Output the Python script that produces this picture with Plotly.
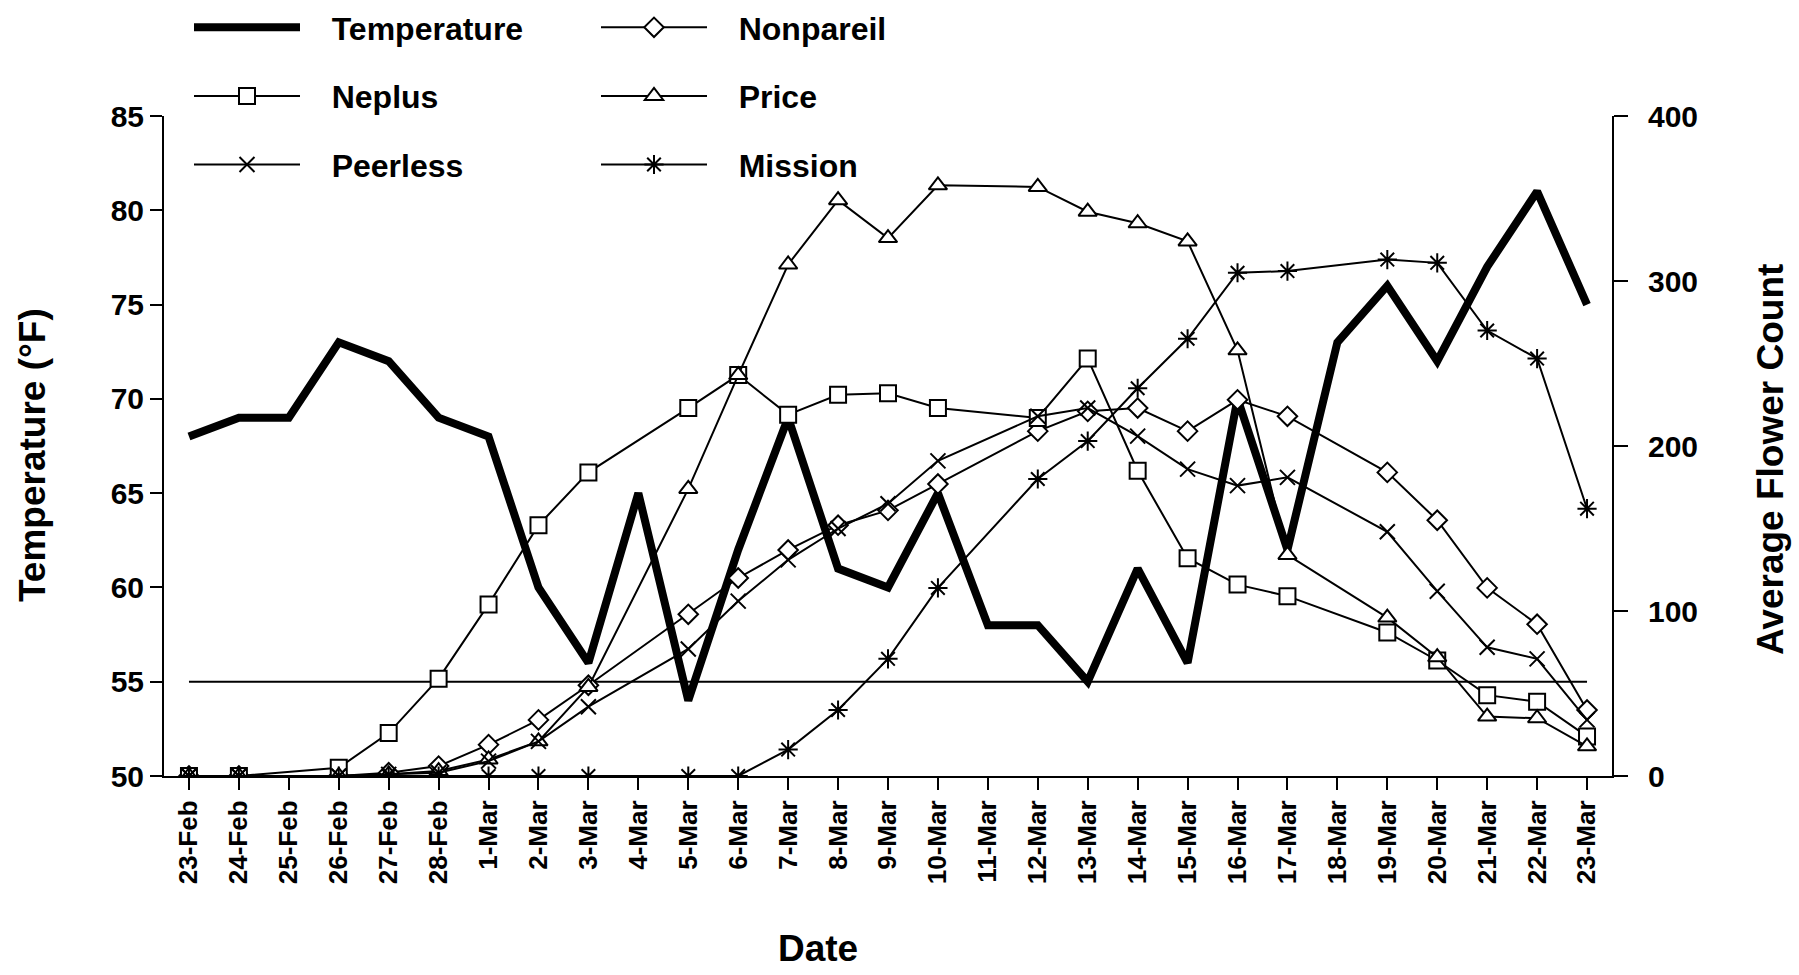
import plotly.graph_objects as go

dates = ["23-Feb", "24-Feb", "25-Feb", "26-Feb", "27-Feb", "28-Feb",
         "1-Mar", "2-Mar", "3-Mar", "4-Mar", "5-Mar", "6-Mar", "7-Mar", "8-Mar",
         "9-Mar", "10-Mar", "11-Mar", "12-Mar", "13-Mar", "14-Mar", "15-Mar",
         "16-Mar", "17-Mar", "18-Mar", "19-Mar", "20-Mar", "21-Mar", "22-Mar", "23-Mar"]

temperature = [68, 69, 69, 73, 72, 69, 68, 60, 56, 65, 54, 62, 69, 61, 60, 65, 58, 58,
               55, 61, 56, 70, 62, 73, 76, 72, 77, 81, 75]

threshold = [55] * len(dates)

nonpareil = [0, 0, None, 0, 2, 6, 19, 34, 55, None, 98, 120, 137, 152, 161, 177, None,
             209, 221, 223, 209, 228, 218, None, 184, 155, 114, 92, 40]
neplus = [0, 0, None, 5, 26, 59, 104, 152, 184, None, 223, 243, 219, 231, 232, 223, None,
          217, 253, 185, 132, 116, 109, None, 87, 70, 49, 45, 24]
price = [0, 0, None, 0, 1, 3, 10, 21, 54, None, 174, 243, 310, 349, 326, 358, None,
         357, 342, 335, 324, 258, 134, None, 96, 72, 36, 35, 18]
peerless = [0, 0, None, 0, 1, 2, 9, 21, 42, None, 77, 106, 131, 150, 165, 191, None,
            218, 223, 206, 186, 176, 181, None, 148, 112, 78, 71, 34]
mission = [0, 0, None, 0, 0, 0, 0, 0, 0, None, 0, 0, 16, 40, 71, 114, None,
           180, 203, 235, 265, 305, 306, None, 313, 311, 270, 253, 162]

FONT = "Liberation Sans"
PAD = "\u00a0\u00a0\u00a0"
fig = go.Figure()

fig.add_trace(go.Scatter(x=dates, y=temperature, name=PAD + "Temperature", mode="lines",
                         line=dict(color="black", width=8), legend="legend",
                         legendgroup="t"))
fig.add_trace(go.Scatter(x=dates, y=threshold, mode="lines", showlegend=False,
                         line=dict(color="black", width=2), hoverinfo="skip"))

series = [
    ("Nonpareil", nonpareil, "diamond", 15, "white", "legend2"),
    ("Neplus", neplus, "square", 16, "white", "legend"),
    ("Price", price, "triangle-up", 16, "white", "legend2"),
    ("Peerless", peerless, "x-thin", 15, "black", "legend"),
    ("Mission", mission, "asterisk", 16, "black", "legend2"),
]
for name, vals, sym, size, fill, lg in series:
    fig.add_trace(go.Scatter(
        x=dates, y=vals, name=PAD + name, yaxis="y2", mode="lines+markers",
        connectgaps=True, legend=lg, legendgroup=name,
        line=dict(color="black", width=2),
        marker=dict(symbol=sym, size=size, color=fill,
                    line=dict(color="black", width=2))))

legend_common = dict(font=dict(family=FONT, size=32, color="black", weight="bold"),
                     bgcolor="rgba(0,0,0,0)", borderwidth=0, traceorder="grouped",
                     tracegroupgap=24, itemwidth=106, xanchor="left", yanchor="top",
                     yref="container", xref="container")

title_font = dict(family=FONT, size=37, color="black", weight="bold")

fig.update_layout(
    width=1799, height=975,
    margin=dict(l=164, r=187, t=116, b=199, autoexpand=False),
    plot_bgcolor="white", paper_bgcolor="white",
    font=dict(family=FONT, color="black"),
    legend=dict(x=189 / 1799, y=1.016, **legend_common),
    legend2=dict(x=596 / 1799, y=1.016, **legend_common),
    xaxis=dict(type="category", categoryorder="array", categoryarray=dates,
               tickmode="array", tickvals=dates, ticktext=dates,
               range=[-0.5, 28.5], showline=True, linecolor="black", linewidth=2,
               ticks="outside", ticklen=12, tickwidth=2, tickcolor="black",
               tickangle=-90, tickfont=dict(family=FONT, size=26, weight="bold"),
               showgrid=False, zeroline=False),
    yaxis=dict(range=[50, 85], dtick=5, showline=True, linecolor="black", linewidth=2,
               ticks="outside", ticklen=12, tickwidth=2, tickcolor="black",
               tickfont=dict(family=FONT, size=30, weight="bold"),
               showgrid=False, zeroline=False),
    yaxis2=dict(range=[0, 400], dtick=100, overlaying="y", side="right",
                showline=True, linecolor="black", linewidth=2,
                ticks="outside", ticklen=14, tickwidth=2, tickcolor="black",
                ticklabelstandoff=14,
                tickfont=dict(family=FONT, size=30, weight="bold"),
                showgrid=False, zeroline=False),
    annotations=[
        dict(text="Temperature (°F)", textangle=-90, xref="paper", yref="paper",
             x=(32 - 164) / 1448, y=(776 - 455) / 660, showarrow=False,
             xanchor="center", yanchor="middle", font=title_font),
        dict(text="Average Flower Count", textangle=-90, xref="paper", yref="paper",
             x=(1770 - 164) / 1448, y=(776 - 460) / 660, showarrow=False,
             xanchor="center", yanchor="middle", font=title_font),
        dict(text="Date", xref="paper", yref="paper",
             x=(818 - 164) / 1448, y=-(948 - 776) / 660, showarrow=False,
             xanchor="center", yanchor="middle", font=title_font),
    ],
    showlegend=True,
)

fig.write_html("out.html")
